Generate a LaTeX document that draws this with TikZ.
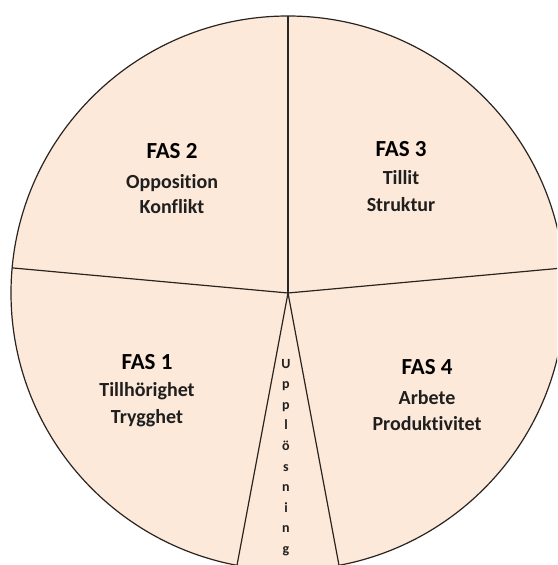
\documentclass[tikz,border=0pt]{standalone}
\usepackage{fontspec}
\setmainfont{Carlito}[Ligatures={NoCommon}]
\definecolor{peach}{HTML}{FDE9D9}
\definecolor{edge}{HTML}{2A2420}
\tikzset{
  seg/.style={draw=edge, line width=1.2pt},
  title/.style={anchor=base, inner sep=0pt, font=\bfseries\fontsize{23}{23}\selectfont, text=black},
  sub/.style={anchor=base, inner sep=0pt, font=\bfseries\fontsize{20}{20}\selectfont, text=black!88},
  letter/.style={anchor=base, inner sep=0pt, font=\bfseries\fontsize{14}{14}\selectfont, text=black!88}
}
\begin{document}
\begin{tikzpicture}[x=1pt, y=-1pt]
  \useasboundingbox (0,0) rectangle (557,565);
  \clip (0,0) rectangle (557,565);
  \fill[white] (0,0) rectangle (557,565);
  \coordinate (c) at (288,293);
  \fill[peach] (c) circle (277);
  \draw[seg] (c) circle (277);
  \coordinate (top) at (288,16);
  \coordinate (left) at (12.1,267.9);
  \coordinate (right) at (563.9,267.9);
  \coordinate (bl) at (237,565.3);
  \coordinate (br) at (339,565.3);
  \draw[seg] (c) -- (top);
  \draw[seg] (c) -- (left);
  \draw[seg] (c) -- (right);
  \draw[seg] (c) -- (bl);
  \draw[seg] (c) -- (br);
  % FAS 2
  \node[title] (f2) at (172,158) {FAS 2};
  \node[sub] (f2a) at (172,188.5) {Opposition};
  \node[sub] (f2b) at (172,213) {Konflikt};
  % FAS 3
  \node[title] (f3) at (401,156.5) {FAS 3};
  \node[sub] (f3a) at (401,184) {Tillit};
  \node[sub] (f3b) at (401,211) {Struktur};
  % FAS 1
  \node[title] (f1) at (147,369.5) {FAS 1};
  \node[sub] (f1a) at (147,396.5) {Tillhörighet};
  \node[sub] (f1b) at (147,423.5) {Trygghet};
  % FAS 4
  \node[title] (f4) at (427,374) {FAS 4};
  \node[sub] (f4a) at (427,404.5) {Arbete};
  \node[sub] (f4b) at (427,430) {Produktivitet};
  % Upplösning
  \foreach \ch [count=\i from 0] in {U,p,p,l,ö,s,n,i,n,g} {
    \node[letter] (u\i) at (286,368+20.6*\i) {\ch};
  }
\end{tikzpicture}
\end{document}
